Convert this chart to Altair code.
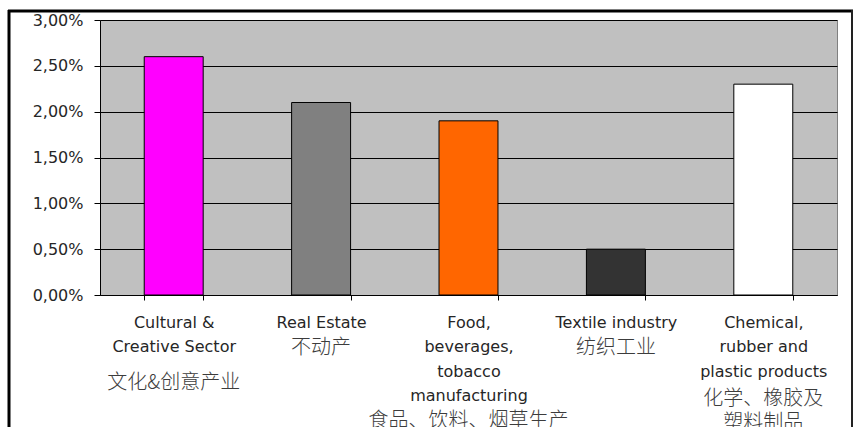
import altair as alt
import pandas as pd

# Data
english = [
    "Cultural &|Creative Sector",
    "Real Estate",
    "Food,|beverages,|tobacco|manufacturing",
    "Textile industry",
    "Chemical,|rubber and|plastic products",
]
chinese = [
    "文化&创意产业",
    "不动产",
    "食品、饮料、烟草生产",
    "纺织工业",
    "化学、橡胶及|塑料制品",
]
values = [0.026, 0.021, 0.019, 0.005, 0.023]
bar_colors = ["#FF00FF", "#808080", "#FF6600", "#333333", "#FFFFFF"]
y_ticks = [0, 0.005, 0.01, 0.015, 0.02, 0.025, 0.03]

categories = [e + "#" + c for e, c in zip(english, chinese)]
df = pd.DataFrame({"category": categories, "value": values})

FONT = "DejaVu Sans"
CJK = "Noto Sans CJK SC"

x_scale = alt.Scale(paddingInner=0.6, paddingOuter=0.3)

bars = alt.Chart(df).mark_bar(stroke="black", strokeWidth=1).encode(
    x=alt.X(
        "category:N",
        sort=categories,
        scale=x_scale,
        axis=alt.Axis(
            title=None,
            labelAngle=0,
            labelExpr="isValid(datum.value) ? split(split(datum.value, '#')[0], '|') : ''",
            labelLineHeight=24.5,
            labelFont=FONT,
            labelFontSize=16,
            labelColor="#262626",
            labelBaseline="top",
            labelPadding=14,
            tickBand="extent",
            tickSize=5,
            tickColor="black",
            domainColor="black",
            labelLimit=300,
        ),
    ),
    y=alt.Y(
        "value:Q",
        scale=alt.Scale(domain=[0, 0.03], nice=False),
        axis=alt.Axis(
            title=None,
            values=y_ticks,
            labelExpr="replace(format(datum.value, '.2%'), '.', ',')",
            labelFont=FONT,
            labelFontSize=16,
            labelColor="#262626",
            labelPadding=11,
            tickSize=6,
            tickColor="black",
            domainColor="black",
            grid=True,
            gridColor="black",
            gridWidth=1,
            gridOpacity=1,
        ),
    ),
    color=alt.Color(
        "category:N",
        scale=alt.Scale(domain=categories, range=bar_colors),
        legend=None,
    ),
)

cn_padding = {
    "condition": [
        {"test": "indexof(datum.value, 'Cultural') >= 0", "value": 77},
        {"test": "indexof(datum.value, 'Food') >= 0", "value": 115},
        {"test": "indexof(datum.value, 'Chemical') >= 0", "value": 93},
    ],
    "value": 42,
}

cn_axis = alt.Chart(df).mark_point(opacity=0).encode(
    x=alt.X(
        "category:N",
        sort=categories,
        scale=x_scale,
        axis=alt.Axis(
            title=None,
            orient="bottom",
            labelAngle=0,
            labelExpr="split(split(datum.value, '#')[1], '|')",
            labelLineHeight=24.5,
            labelFont=CJK,
            labelFontSize=20,
            labelFontWeight=300,
            labelColor="#3c3c3c",
            labelBaseline="top",
            labelPadding=cn_padding,
            ticks=False,
            tickSize=0,
            domain=False,
            grid=False,
            labelLimit=300,
        ),
    ),
    y=alt.value(0),
)

one = pd.DataFrame({"a": [0]})
frame_top = alt.Chart(one).mark_rule(color="black", strokeWidth=3).encode(
    x=alt.value(-92), x2=alt.value(753), y=alt.value(-9)
)
frame_left = alt.Chart(one).mark_rule(color="black", strokeWidth=3).encode(
    x=alt.value(-91), y=alt.value(-10), y2=alt.value(420)
)
frame_right = alt.Chart(one).mark_rule(color="#222222", strokeWidth=2).encode(
    x=alt.value(752), y=alt.value(-10), y2=alt.value(420)
)

chart = alt.layer(bars, cn_axis, frame_top, frame_left, frame_right).resolve_axis(
    x="independent"
).properties(
    width=737,
    height=275,
    autosize=alt.AutoSizeParams(type="none"),
    padding={"left": 100, "top": 20, "right": 22, "bottom": 132},
    background="white",
).configure_view(
    fill="#C0C0C0", stroke="#808080", strokeWidth=1
)

chart.save("out.html", embed_options={"renderer": "svg", "actions": False})
